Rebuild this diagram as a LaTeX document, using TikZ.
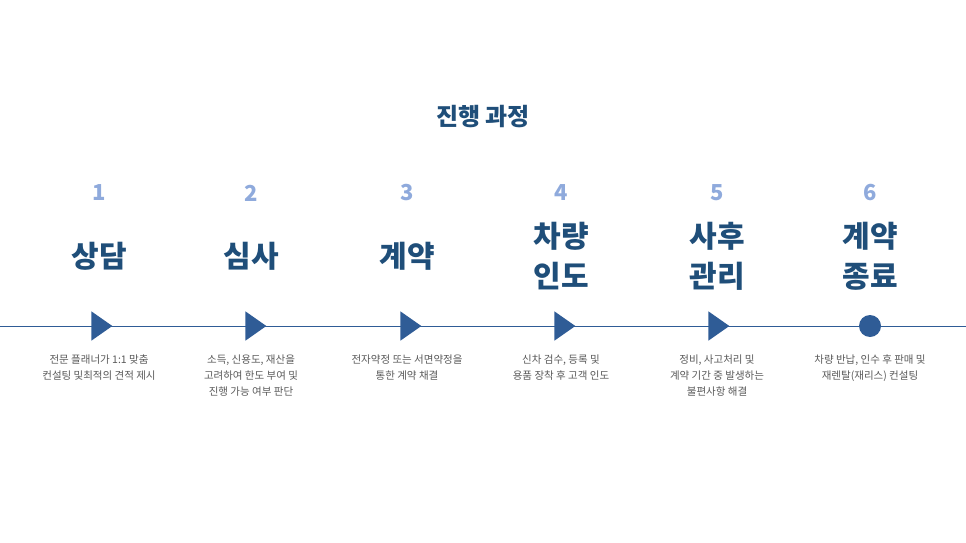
\documentclass[tikz,border=0pt]{standalone}
\usepackage{fontspec}
\setmainfont{Noto Sans CJK KR}
\usetikzlibrary{shapes.geometric}
\definecolor{deepblue}{HTML}{1F4E79}
\definecolor{lineblue}{HTML}{2F5C96}
\definecolor{softblue}{HTML}{8FAADC}
\definecolor{greytext}{HTML}{595959}

\tikzset{
  numtext/.style = {text=softblue, font=\fontsize{22}{24}\selectfont\bfseries},
  steptitle/.style = {text=deepblue, font=\fontsize{30}{40}\selectfont\bfseries, align=center},
  desctext/.style = {text=greytext, font=\fontsize{10.5}{16}\selectfont, align=center},
  arrowmark/.style = {isosceles triangle, isosceles triangle apex angle=70, fill=lineblue, inner sep=0pt, minimum height=21pt, minimum width=21pt},
  endmark/.style = {circle, fill=lineblue, inner sep=0pt, minimum size=22pt}
}

\begin{document}
\begin{tikzpicture}[x=1pt,y=-1pt]
\useasboundingbox (0,0) rectangle (966,543);

% heading
\node[text=deepblue, font=\fontsize{24}{28}\selectfont\bfseries] (heading) at (483,117) {진행 과정};

% the time line
\coordinate (ls) at (0,326);
\coordinate (le) at (966,326);
\draw[lineblue, line width=1pt] (ls) -- (le);

% steps
\foreach \i/\x/\title/\desc in {
  1/99/상담/{전문 플래너가 1:1 맞춤\\컨설팅 및최적의 견적 제시},
  2/251/심사/{소득, 신용도, 재산을\\고려하여 한도 부여 및\\진행 가능 여부 판단},
  3/407/계약/{전자약정 또는 서면약정을\\통한 계약 채결},
  4/561/{차량\\인도}/{신차 검수, 등록 및\\용품 장착 후 고객 인도},
  5/717/{사후\\관리}/{정비, 사고처리 및\\계약 기간 중 발생하는\\불편사항 해결},
  6/870/{계약\\종료}/{차량 반납, 인수 후 판매 및\\재렌탈(재리스) 컨설팅}}
{
  \node[numtext] (num\i) at (\x,193) {\i};
  \node[steptitle] (title\i) at (\x,256) {\title};
  \node[desctext, anchor=north] (desc\i) at (\x,351) {\desc};
}

% markers on the line
\foreach \i/\x in {1/99, 2/253, 3/408, 4/562, 5/716}
  \node[arrowmark] (mark\i) at (\x,326) {};
\node[endmark] (mark6) at (870,326) {};
\end{tikzpicture}
\end{document}
